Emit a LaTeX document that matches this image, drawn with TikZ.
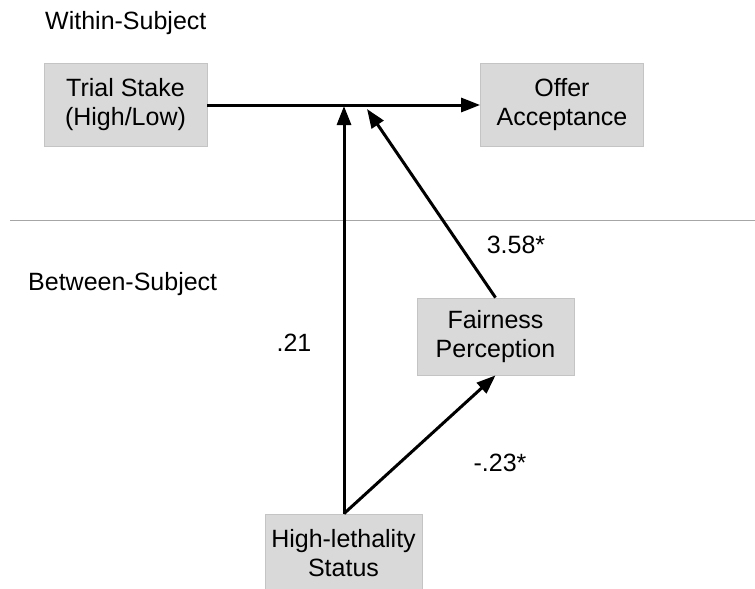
\documentclass[tikz,border=0pt]{standalone}
\usepackage{fontspec}
\setmainfont{Liberation Sans}
\usetikzlibrary{arrows.meta}
\definecolor{boxfill}{HTML}{D9D9D9}
\definecolor{boxline}{HTML}{C4C4C4}
\begin{document}
\begin{tikzpicture}[x=1pt,y=-1pt,
  var/.style={draw=boxline, line width=0.8pt, fill=boxfill, inner sep=0pt, align=center,
    font=\fontsize{25}{28.5}\selectfont},
  path/.style={line width=3pt, -{Triangle[length=19pt,width=14pt]}},
  lbl/.style={font=\fontsize{25}{28}\selectfont, inner sep=0pt},
  sect/.style={font=\fontsize{25}{28}\selectfont, inner sep=0pt, anchor=west}]
\useasboundingbox (0,0) rectangle (755,589);
\node[sect] (within) at (45,23) {Within-Subject};
\node[sect] (between) at (28,284) {Between-Subject};
\draw[line width=0.8pt, color=black!35] (10,220) coordinate (sepL) -- (755,220) coordinate (sepR);
\node[var, minimum width=163pt, minimum height=83pt] (trial) at (125.5,104.5) {Trial Stake\\(High/Low)};
\node[var, minimum width=163pt, minimum height=83pt] (offer) at (562,104.5) {Offer\\Acceptance};
\node[var, minimum width=157pt, minimum height=77pt] (fair) at (495.5,336.5) {Fairness\\Perception};
\node[var, minimum width=157pt, minimum height=78pt] (high) at (343.5,553) {High-lethality\\Status};
\coordinate (mid) at (344,106);
\coordinate (mid2) at (367,109);
\draw[path] (trial.east |- 0,105) -- (offer.west |- 0,105);
\draw[path] (high.north -| 344,0) -- (mid);
\draw[path] (fair.north) -- (mid2);
\draw[path] (high.north -| 344,0) -- (fair.south);
\node[lbl] (l21) at (294,343) {.21};
\node[lbl] (l358) at (516,245) {3.58*};
\node[lbl] (l23) at (500,463) {-.23*};
\end{tikzpicture}
\end{document}
